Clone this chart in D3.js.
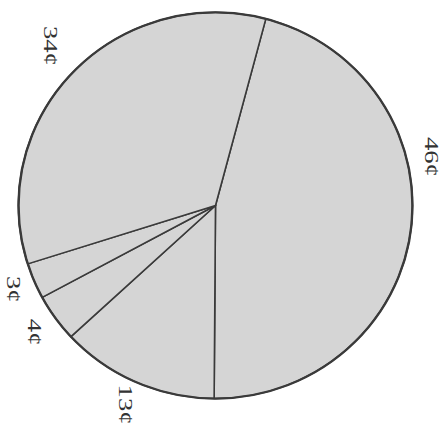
<!DOCTYPE html>
<html>
<head>
<meta charset="utf-8">
<script src="https://cdn.jsdelivr.net/npm/d3@7/dist/d3.min.js"></script>
<style>
  html, body { margin: 0; padding: 0; background: #ffffff; }
  svg { display: block; }
</style>
</head>
<body>
<script>
// Where each cent of the dollar goes (clockwise from the top)
const labels = ["46¢", "13¢", "4¢", "3¢", "34¢"];
const values = [46, 13, 4, 3, 34];

const width = 448, height = 430;
const cx = 215.5, cy = 205.5;
const radius = 197;
const startDeg = 14.8;

// Label nudges for slices whose label sits off-centre: [degrees, pixels outward]
const labelNudge = { "46¢": [-20.5, 0], "34¢": [1, 10], "3¢": [0, -3] };

const svg = d3.select("body").append("svg")
  .attr("width", width)
  .attr("height", height);

const pie = d3.pie()
  .sort(null)
  .value(d => d.value)
  .startAngle(startDeg * Math.PI / 180)
  .endAngle((startDeg + 360) * Math.PI / 180);

const data = labels.map((l, i) => ({ label: l, value: values[i] }));
const arcs = pie(data);

const arc = d3.arc().innerRadius(0).outerRadius(radius);

const g = svg.append("g")
  .attr("transform", `translate(${cx},${cy}) scale(1.0,0.98)`);

g.selectAll("path.slice")
  .data(arcs)
  .join("path")
  .attr("class", "slice")
  .attr("d", arc)
  .attr("fill", "#d5d5d5")
  .attr("stroke", "#3a3a3a")
  .attr("stroke-width", 1.6)
  .attr("stroke-linejoin", "round");

// outer rim drawn a little heavier
g.append("circle")
  .attr("r", radius)
  .attr("fill", "none")
  .attr("stroke", "#3a3a3a")
  .attr("stroke-width", 2.4);

// labels, set sideways around the rim
const labelR = 222;
svg.selectAll("text.lbl")
  .data(arcs)
  .join("text")
  .attr("class", "lbl")
  .attr("transform", d => {
    const n = labelNudge[d.data.label] || [0, 0];
    const a = (d.startAngle + d.endAngle) / 2 + n[0] * Math.PI / 180;
    const r = labelR + n[1];
    const x = cx + r * Math.sin(a);
    const y = cy - r * Math.cos(a) * 0.98;
    return `translate(${x},${y}) rotate(90) scale(1.4,1)`;
  })
  .attr("text-anchor", "middle")
  .attr("dominant-baseline", "central")
  .attr("font-family", "'Liberation Serif', 'DejaVu Serif', serif")
  .attr("font-size", 19)
  .attr("fill", "#333")
  .text(d => d.data.label);
</script>
</body>
</html>
